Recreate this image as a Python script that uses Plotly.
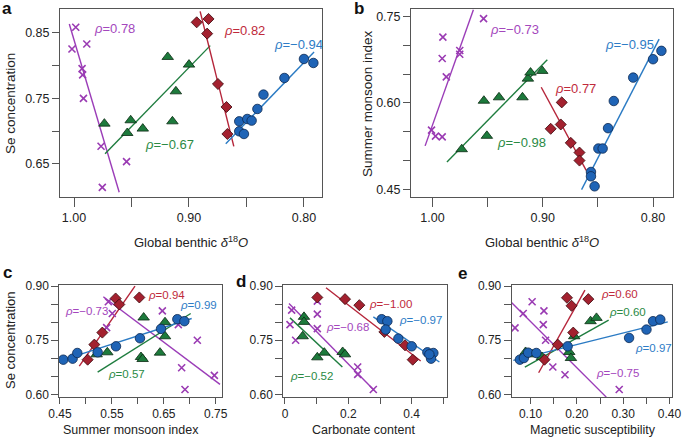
import plotly.graph_objects as go

W, H = 685, 438

# ---------------- data ----------------
# Panel a: Se concentration vs global benthic d18O
A_PUR_X = [0.9985, 1.0018, 0.9889, 0.9930, 0.9925, 0.9918, 0.9765, 0.9543, 0.9754]
A_PUR_Y = [0.8587, 0.8256, 0.8332, 0.7955, 0.7860, 0.7502, 0.6770, 0.6536, 0.6144]
A_GRN_X = [0.9736, 0.9507, 0.9537, 0.9402, 0.9185, 0.9000, 0.9114, 0.9144]
A_GRN_Y = [0.7116, 0.7167, 0.6973, 0.7040, 0.8134, 0.8017, 0.7609, 0.7151]
A_RED_X = [0.8933, 0.8830, 0.8842, 0.8748, 0.8674, 0.8666]
A_RED_Y = [0.8663, 0.8714, 0.8490, 0.7721, 0.7370, 0.6958]
A_BLU_X = [0.8563, 0.8563, 0.8522, 0.8493, 0.8455, 0.8405, 0.8352, 0.8170, 0.8000, 0.7918]
A_BLU_Y = [0.7151, 0.6999, 0.6958, 0.7187, 0.7162, 0.7340, 0.7559, 0.7813, 0.8103, 0.8042]
A_FIT_PUR = ([1.0041, 0.9607], [0.8637, 0.6068])
A_FIT_GRN = ([0.9730, 0.8815], [0.6658, 0.8307])
A_FIT_RED = ([0.8903, 0.8610], [0.8830, 0.6770])
A_FIT_BLU = ([0.8680, 0.7912], [0.6810, 0.8210])
A_RHO = ["0.78", "−0.67", "0.82", "−0.94"]

# Panel b: summer monsoon index vs global benthic d18O
B_PUR_X = [0.9537, 0.9906, 0.9912, 0.9753, 0.9753, 0.9875, 1.0009, 0.9973, 0.9912]
B_PUR_Y = [0.7460, 0.7140, 0.6769, 0.6908, 0.6844, 0.6450, 0.5527, 0.5422, 0.5411]
B_GRN_X = [0.9735, 0.9534, 0.9397, 0.9507, 0.9184, 0.9135, 0.9111, 0.9005]
B_GRN_Y = [0.5196, 0.6037, 0.6096, 0.5428, 0.6096, 0.6420, 0.6525, 0.6554]
B_RED_X = [0.8928, 0.8828, 0.8837, 0.8746, 0.8667, 0.8667]
B_RED_Y = [0.5550, 0.6008, 0.5625, 0.5306, 0.5138, 0.4999]
B_BLU_X = [0.8563, 0.8563, 0.8530, 0.8496, 0.8457, 0.8408, 0.8356, 0.8180, 0.8000, 0.7924]
B_BLU_Y = [0.4801, 0.4726, 0.4552, 0.5208, 0.5208, 0.5561, 0.6032, 0.6438, 0.6757, 0.6902]
B_FIT_PUR = ([1.0067, 0.9629], [0.5254, 0.7616])
B_FIT_GRN = ([0.9869, 0.8959], [0.4975, 0.6746])
B_FIT_RED = ([0.9014, 0.8606], [0.6270, 0.4830])
B_FIT_BLU = ([0.8648, 0.7945], [0.4494, 0.7105])
B_RHO = ["−0.73", "−0.98", "0.77", "−0.95"]

# Panel c: Se concentration vs summer monsoon index
C_PUR_X = [0.5431, 0.5508, 0.5399, 0.6472, 0.6780, 0.7146, 0.6844, 0.6908, 0.7474]
C_PUR_Y = [0.8565, 0.8241, 0.7852, 0.8315, 0.7935, 0.7500, 0.6741, 0.6139, 0.6528]
C_GRN_X = [0.5206, 0.5412, 0.6112, 0.6061, 0.6092, 0.6427, 0.6523, 0.6523]
C_GRN_Y = [0.7111, 0.7167, 0.8130, 0.7037, 0.6981, 0.7157, 0.8000, 0.7611]
C_RED_X = [0.5033, 0.5162, 0.5316, 0.5572, 0.5643, 0.6029]
C_RED_Y = [0.6963, 0.7380, 0.7713, 0.8657, 0.8491, 0.8685]
C_BLU_X = [0.4564, 0.4744, 0.4834, 0.5226, 0.5579, 0.6041, 0.6446, 0.6761, 0.6896]
C_BLU_Y = [0.6963, 0.6991, 0.7148, 0.7167, 0.7333, 0.7556, 0.7815, 0.8083, 0.8028]
C_FIT_PUR = ([0.5335, 0.7583], [0.8704, 0.6278])
C_FIT_GRN = ([0.5226, 0.7018], [0.6620, 0.8241])
C_FIT_RED = ([0.4872, 0.5945], [0.6787, 0.9000])
C_FIT_BLU = ([0.4532, 0.7037], [0.6944, 0.8102])
C_RHO = ["−0.73", "0.57", "0.94", "0.99"]

# Panel d: Se concentration vs carbonate content
D_PUR_X = [0.0211, 0.0158, 0.0337, 0.1021, 0.1021, 0.1021, 0.2295, 0.2295, 0.2789]
D_PUR_Y = [0.8333, 0.7935, 0.7500, 0.8583, 0.8222, 0.7824, 0.6759, 0.6556, 0.6139]
D_GRN_X = [0.0600, 0.0600, 0.0558, 0.1021, 0.1242, 0.1821, 0.1895]
D_GRN_Y = [0.8148, 0.8009, 0.7611, 0.7028, 0.7157, 0.7176, 0.7111]
D_RED_X = [0.1021, 0.1895, 0.2347, 0.3137, 0.3789, 0.4032]
D_RED_Y = [0.8685, 0.8639, 0.8472, 0.7731, 0.7361, 0.6963]
D_BLU_X = [0.3053, 0.3232, 0.3179, 0.3579, 0.4000, 0.4495, 0.4684, 0.4611, 0.4558]
D_BLU_Y = [0.8083, 0.8028, 0.7796, 0.7546, 0.7333, 0.7167, 0.7148, 0.6991, 0.7111]
D_FIT_PUR = ([0.0126, 0.2821], [0.8519, 0.6111])
D_FIT_GRN = ([0.0158, 0.1811], [0.8120, 0.6759])
D_FIT_RED = ([0.1295, 0.4284], [0.8954, 0.6926])
D_FIT_BLU = ([0.2789, 0.4874], [0.8148, 0.6898])
D_RHO = ["−0.68", "−0.52", "−1.00", "−0.97"]

# Panel e: Se concentration vs magnetic susceptibility
E_PUR_X = [0.0665, 0.0842, 0.1034, 0.1289, 0.1275, 0.1325, 0.1481, 0.1744, 0.2915]
E_PUR_Y = [0.7843, 0.8241, 0.8565, 0.8315, 0.7935, 0.7500, 0.6759, 0.6546, 0.6139]
E_GRN_X = [0.0892, 0.1034, 0.1247, 0.1836, 0.1872, 0.1943, 0.2296, 0.2424]
E_GRN_Y = [0.7176, 0.7111, 0.7037, 0.7176, 0.7009, 0.7611, 0.8028, 0.8120]
E_RED_X = [0.1787, 0.1886, 0.2248, 0.1922, 0.1588, 0.1302]
E_RED_Y = [0.8676, 0.8454, 0.8639, 0.7713, 0.7380, 0.6963]
E_BLU_X = [0.0770, 0.0856, 0.0948, 0.1125, 0.1801, 0.3128, 0.3504, 0.3646, 0.3802]
E_BLU_Y = [0.6963, 0.7009, 0.7157, 0.7148, 0.7333, 0.7565, 0.7796, 0.8028, 0.8074]
E_FIT_PUR = ([0.0558, 0.2637], [0.8583, 0.5926])
E_FIT_GRN = ([0.0877, 0.2687], [0.6759, 0.8056])
E_FIT_RED = ([0.1175, 0.2175], [0.6602, 0.8889])
E_FIT_BLU = ([0.0629, 0.3964], [0.6944, 0.8009])
E_RHO = ["−0.75", "0.60", "0.60", "0.97"]

# tick labels
AB_X_TICKS = [0.80, 0.85, 0.90, 0.95, 1.00]
AB_X_TEXT = ["0.80", "", "0.90", "", "1.00"]
A_Y_TICKS = [0.65, 0.70, 0.75, 0.80, 0.85]
A_Y_TEXT = ["0.65", "", "0.75", "", "0.85"]
B_Y_TICKS = [0.45, 0.50, 0.55, 0.60, 0.65, 0.70, 0.75]
B_Y_TEXT = ["0.45", "", "", "0.60", "", "", "0.75"]
CDE_Y_TICKS = [0.60, 0.65, 0.70, 0.75, 0.80, 0.85, 0.90]
CDE_Y_TEXT = ["0.60", "", "", "0.75", "", "", "0.90"]
C_X_TICKS = [0.45, 0.50, 0.55, 0.60, 0.65, 0.70, 0.75]
C_X_TEXT = ["0.45", "", "0.55", "", "0.65", "", "0.75"]
D_X_TICKS = [0.0, 0.1, 0.2, 0.3, 0.4, 0.5]
D_X_TEXT = ["0", "", "0.2", "", "0.4", ""]
E_X_TICKS = [0.10, 0.15, 0.20, 0.25, 0.30, 0.35, 0.40]
E_X_TEXT = ["0.10", "", "0.20", "", "0.30", "", "0.40"]

# ---------------- styling ----------------
FONT = "Liberation Sans, Arial, Helvetica, sans-serif"
PUR, GRN, RED, BLU = "#9a3bb3", "#1d7a3c", "#a3212f", "#1f64b6"
PUR_L, GRN_L, RED_L, BLU_L = "#9b3db8", "#1f7d3f", "#b5253a", "#2b7bc4"
PUR_T, GRN_T, RED_T, BLU_T = "#a447bd", "#2b8a45", "#c02a3b", "#2e7cc6"


def px(x):
    return x / W


def py(y):
    return 1 - y / H


panels = [
    dict(ax="", frame=(60, 322, 9, 197), xr=[1.0122, 0.7843], yr=[0.5996, 0.8866],
         xt=(AB_X_TICKS, AB_X_TEXT), yt=(A_Y_TICKS, A_Y_TEXT), xtl=9,
         pts=[(A_PUR_X, A_PUR_Y), (A_GRN_X, A_GRN_Y), (A_RED_X, A_RED_Y), (A_BLU_X, A_BLU_Y)],
         fits=[A_FIT_PUR, A_FIT_GRN, A_FIT_RED, A_FIT_BLU], rho=A_RHO,
         lab=[(91.7, 28.5), (143.3, 144), (221.7, 30), (271.7, 45)], fs=12.5, ls=13),
    dict(ax="2", frame=(411, 673, 9, 197), xr=[1.0195, 0.7819], yr=[0.4367, 0.7628],
         xt=(AB_X_TICKS, AB_X_TEXT), yt=(B_Y_TICKS, B_Y_TEXT), xtl=9,
         pts=[(B_PUR_X, B_PUR_Y), (B_GRN_X, B_GRN_Y), (B_RED_X, B_RED_Y), (B_BLU_X, B_BLU_Y)],
         fits=[B_FIT_PUR, B_FIT_GRN, B_FIT_RED, B_FIT_BLU], rho=B_RHO,
         lab=[(488.3, 29.5), (495, 142.7), (553.3, 88.3), (603.3, 44)], fs=12.5, ls=13),
    dict(ax="3", frame=(59.3, 222, 285, 397), xr=[0.4487, 0.7621], yr=[0.593, 0.903],
         xt=(C_X_TICKS, C_X_TEXT), yt=(CDE_Y_TICKS, CDE_Y_TEXT), xtl=6,
         pts=[(C_PUR_X, C_PUR_Y), (C_GRN_X, C_GRN_Y), (C_RED_X, C_RED_Y), (C_BLU_X, C_BLU_Y)],
         fits=[C_FIT_PUR, C_FIT_GRN, C_FIT_RED, C_FIT_BLU], rho=C_RHO,
         lab=[(63.3, 310.7), (105.7, 374), (145.7, 294.7), (178.3, 305)], fs=12, ls=11.5),
    dict(ax="4", frame=(283.3, 446.7, 285, 397), xr=[-0.0053, 0.5105], yr=[0.593, 0.903],
         xt=(D_X_TICKS, D_X_TEXT), yt=(CDE_Y_TICKS, CDE_Y_TEXT), xtl=6,
         pts=[(D_PUR_X, D_PUR_Y), (D_GRN_X, D_GRN_Y), (D_RED_X, D_RED_Y), (D_BLU_X, D_BLU_Y)],
         fits=[D_FIT_PUR, D_FIT_GRN, D_FIT_RED, D_FIT_BLU], rho=D_RHO,
         lab=[(324.3, 327.3), (288.3, 375.7), (366.7, 304), (396.7, 320)], fs=12, ls=11.5),
    dict(ax="5", frame=(511.7, 672, 285, 397), xr=[0.0593, 0.4055], yr=[0.593, 0.903],
         xt=(E_X_TICKS, E_X_TEXT), yt=(CDE_Y_TICKS, CDE_Y_TEXT), xtl=6,
         pts=[(E_PUR_X, E_PUR_Y), (E_GRN_X, E_GRN_Y), (E_RED_X, E_RED_Y), (E_BLU_X, E_BLU_Y)],
         fits=[E_FIT_PUR, E_FIT_GRN, E_FIT_RED, E_FIT_BLU], rho=E_RHO,
         lab=[(594.3, 373.3), (607.3, 311.7), (599, 294), (633.3, 348.3)], fs=12, ls=11.5),
]

line_cols = [PUR_L, GRN_L, RED_L, BLU_L]
text_cols = [PUR_T, GRN_T, RED_T, BLU_T]
markers = [
    dict(symbol="x-thin-open", size=7, color=PUR, line=dict(color=PUR, width=1.6)),
    dict(symbol="triangle-up", size=10, color=GRN, line=dict(color="#0a2a12", width=0.8)),
    dict(symbol="diamond", size=8.5, color=RED, line=dict(color="#3a080c", width=0.8)),
    dict(symbol="circle", size=9.5, color=BLU, line=dict(color="#0c2850", width=0.8)),
]

fig = go.Figure()
annotations = []
layout = {}

for p in panels:
    xa, ya = "x" + p["ax"], "y" + p["ax"]
    l, r, t, b = p["frame"]
    for (fx, fy), lc in zip(p["fits"], line_cols):
        fig.add_trace(go.Scatter(x=fx, y=fy, mode="lines", xaxis=xa, yaxis=ya,
                                 line=dict(color=lc, width=1.4), showlegend=False,
                                 hoverinfo="skip"))
    for (sx, sy), mk in zip(p["pts"], markers):
        fig.add_trace(go.Scatter(x=sx, y=sy, mode="markers", xaxis=xa, yaxis=ya,
                                 marker=mk, showlegend=False, cliponaxis=False))
    common = dict(showgrid=False, zeroline=False, showline=True, mirror=True,
                  linecolor="#555", linewidth=1, ticks="outside",
                  tickcolor="#555", tickwidth=1, automargin=False,
                  tickfont=dict(family=FONT, size=p["fs"], color="#222"))
    layout["xaxis" + p["ax"]] = dict(common, domain=[px(l), px(r)], range=p["xr"],
                                     anchor=ya, tickmode="array", ticklen=p["xtl"],
                                     tickvals=p["xt"][0], ticktext=p["xt"][1])
    layout["yaxis" + p["ax"]] = dict(common, domain=[py(b), py(t)], range=p["yr"],
                                     anchor=xa, tickmode="array", ticklen=7,
                                     tickvals=p["yt"][0], ticktext=p["yt"][1])
    for (lx, ly), txt, tc in zip(p["lab"], p["rho"], text_cols):
        annotations.append(dict(x=px(lx), y=py(ly), xref="paper", yref="paper",
                                text="<i>ρ</i>=" + txt, showarrow=False,
                                xanchor="left", yanchor="middle",
                                font=dict(family=FONT, size=p["ls"], color=tc)))

# axis titles and panel letters
titles = [
    ("Se concentration", 10, 104, -90, 13.5),
    ("Global benthic <i>δ</i><sup>18</sup><i>O</i>", 191, 242, 0, 13),
    ("Summer monsoon index", 367, 104, -90, 13.5),
    ("Global benthic <i>δ</i><sup>18</sup><i>O</i>", 542, 242, 0, 13),
    ("Se concentration", 10, 340, -90, 13),
    ("Summer monsoon index", 131, 430, 0, 12.5),
    ("Carbonate content", 363, 430, 0, 12.5),
    ("Magnetic susceptibility", 593, 430, 0, 12.5),
]
for txt, x, y, ang, fs in titles:
    annotations.append(dict(x=px(x), y=py(y), xref="paper", yref="paper", text=txt,
                            showarrow=False, textangle=ang, xanchor="center", yanchor="middle",
                            font=dict(family=FONT, size=fs, color="#222")))

for letter, x, y in [("a", 7, 8), ("b", 359, 8), ("c", 7, 272), ("d", 241, 281), ("e", 462, 273)]:
    annotations.append(dict(x=px(x), y=py(y), xref="paper", yref="paper",
                            text="<b>" + letter + "</b>", showarrow=False,
                            xanchor="center", yanchor="middle",
                            font=dict(family=FONT, size=17, color="#111")))

fig.update_layout(width=W, height=H,
                  margin=dict(l=0, r=0, t=0, b=0, pad=0, autoexpand=False),
                  paper_bgcolor="white", plot_bgcolor="white",
                  annotations=annotations, showlegend=False, **layout)

fig.write_html("out.html", config={"displayModeBar": False},
               post_script="document.body.style.margin='0px';"
                           "document.body.style.overflow='hidden';")
